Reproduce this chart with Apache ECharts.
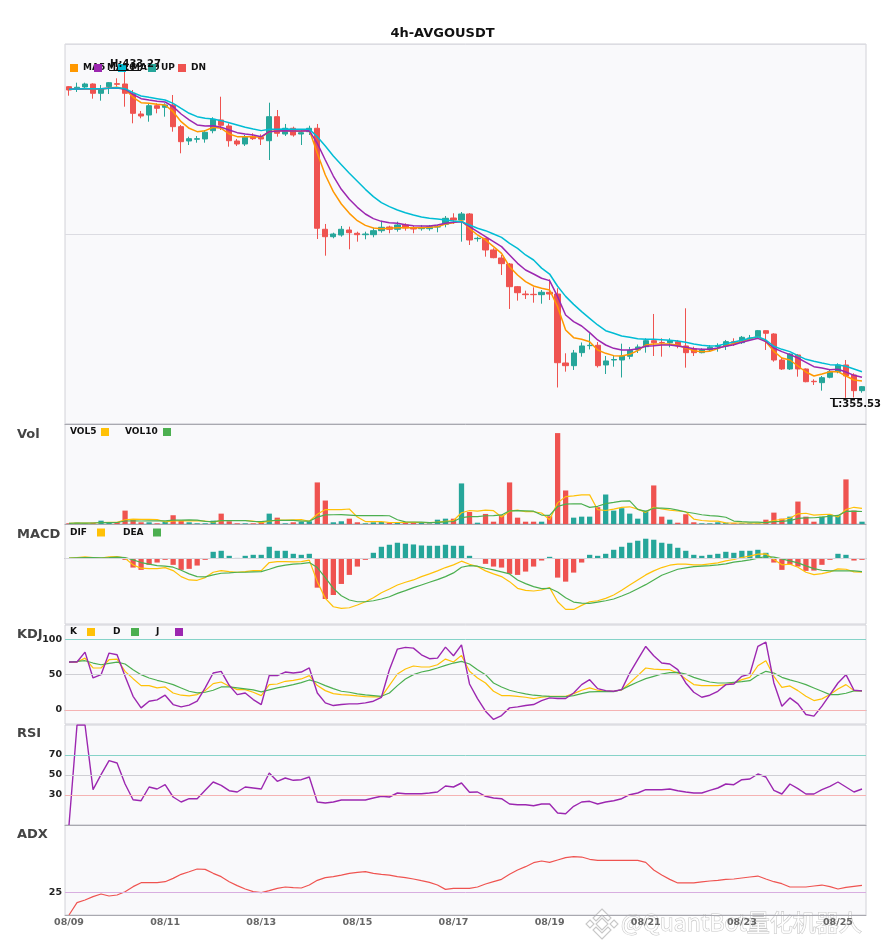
<!DOCTYPE html>
<html lang="zh">
<head>
<meta charset="UTF-8">
<title>4h-AVGOUSDT</title>
<script src="https://cdn.jsdelivr.net/npm/echarts@6.0.0/dist/echarts.min.js"></script>
<style>
    html, body { margin: 0; padding: 0; background: #ffffff; }
    #main { width: 885px; height: 950px; }
</style>
</head>
<body>
<div id="main"></div>
<script>
// ---- 时间轴 (4h) ----
const dates = [
  '08/09 00:00','08/09 04:00','08/09 08:00','08/09 12:00','08/09 16:00','08/09 20:00',
  '08/10 00:00','08/10 04:00','08/10 08:00','08/10 12:00','08/10 16:00','08/10 20:00',
  '08/11 00:00','08/11 04:00','08/11 08:00','08/11 12:00','08/11 16:00','08/11 20:00',
  '08/12 00:00','08/12 04:00','08/12 08:00','08/12 12:00','08/12 16:00','08/12 20:00',
  '08/13 00:00','08/13 04:00','08/13 08:00','08/13 12:00','08/13 16:00','08/13 20:00',
  '08/14 00:00','08/14 04:00','08/14 08:00','08/14 12:00','08/14 16:00','08/14 20:00',
  '08/15 00:00','08/15 04:00','08/15 08:00','08/15 12:00','08/15 16:00','08/15 20:00',
  '08/16 00:00','08/16 04:00','08/16 08:00','08/16 12:00','08/16 16:00','08/16 20:00',
  '08/17 00:00','08/17 04:00','08/17 08:00','08/17 12:00','08/17 16:00','08/17 20:00',
  '08/18 00:00','08/18 04:00','08/18 08:00','08/18 12:00','08/18 16:00','08/18 20:00',
  '08/19 00:00','08/19 04:00','08/19 08:00','08/19 12:00','08/19 16:00','08/19 20:00',
  '08/20 00:00','08/20 04:00','08/20 08:00','08/20 12:00','08/20 16:00','08/20 20:00',
  '08/21 00:00','08/21 04:00','08/21 08:00','08/21 12:00','08/21 16:00','08/21 20:00',
  '08/22 00:00','08/22 04:00','08/22 08:00','08/22 12:00','08/22 16:00','08/22 20:00',
  '08/23 00:00','08/23 04:00','08/23 08:00','08/23 12:00','08/23 16:00','08/23 20:00',
  '08/24 00:00','08/24 04:00','08/24 08:00','08/24 12:00','08/24 16:00','08/24 20:00',
  '08/25 00:00','08/25 04:00','08/25 08:00','08/25 12:00'
];

// ---- K线 ----
const opens = [
  429.36,428.74,429.29,430.00,427.79,429.36,430.07,430.00,427.79,422.88,
  422.64,424.85,424.47,425.01,419.87,416.47,416.88,416.95,418.92,421.46,
  420.03,416.47,415.76,417.49,417.35,416.54,422.24,418.13,419.49,418.13,
  418.68,419.49,395.52,393.76,394.17,395.35,394.57,394.24,394.24,395.19,
  396.06,395.52,396.54,395.83,395.66,395.66,396.06,396.70,398.20,397.72,
  399.15,393.29,393.38,390.61,388.71,387.28,381.90,380.16,380.09,380.00,
  380.57,380.16,363.79,363.15,366.24,367.90,367.99,363.32,364.50,364.50,
  365.38,366.88,367.66,369.08,368.66,368.61,368.85,367.83,367.18,366.24,
  366.88,367.71,367.83,368.85,368.61,369.60,370.03,371.46,370.67,364.50,
  362.37,365.69,362.37,359.45,359.12,360.40,361.73,363.32,360.94,357.22
];
const closes = [
  428.57,429.22,430.00,427.79,428.81,430.31,429.93,427.79,423.04,422.40,
  424.85,424.23,425.01,419.87,416.31,417.02,417.02,418.54,421.62,420.20,
  416.54,415.76,417.35,417.02,416.95,422.24,418.30,419.49,417.90,418.44,
  419.49,395.76,393.76,394.40,395.52,394.71,394.24,394.40,395.19,395.99,
  395.52,396.54,395.83,395.59,395.83,396.14,396.14,398.13,397.72,399.15,
  392.98,393.38,390.61,388.78,387.36,381.90,380.47,380.00,380.00,380.57,
  380.16,363.86,363.15,366.16,367.83,367.99,363.15,364.27,364.62,365.45,
  366.80,367.59,369.08,368.61,368.61,369.08,367.83,366.24,366.24,366.88,
  367.52,367.95,368.85,368.47,369.89,369.72,371.46,370.84,364.50,362.37,
  365.93,362.37,359.35,359.35,360.30,361.73,363.32,360.71,357.22,358.17
];
const lows = [
  427.22,428.10,428.81,426.51,426.04,427.62,429.36,424.61,420.67,421.86,
  421.05,423.04,422.24,418.68,413.55,415.52,416.07,416.07,418.30,419.08,
  415.12,415.29,415.29,416.71,415.52,411.96,417.49,417.66,417.49,415.52,
  417.90,393.22,389.25,393.38,393.76,390.77,392.58,393.15,393.62,394.71,
  394.57,394.95,395.19,394.57,395.19,395.19,394.81,395.99,396.78,392.58,
  391.79,392.58,389.02,388.64,384.67,376.61,378.58,378.98,378.10,377.86,
  378.74,357.98,361.73,362.13,365.29,367.00,362.72,361.18,362.91,360.35,
  364.69,366.16,366.24,365.45,365.29,367.52,367.28,362.68,365.45,366.09,
  366.47,366.47,366.88,367.83,368.30,369.08,369.65,366.88,364.10,362.13,
  362.13,360.54,359.21,358.57,357.22,360.16,361.35,355.53,355.60,356.74
];
const highs = [
  429.52,430.31,430.31,430.16,429.76,430.47,431.35,433.27,428.57,423.59,
  425.25,425.42,425.42,427.39,420.27,417.49,417.66,419.08,422.10,426.98,
  420.67,416.95,417.90,418.30,418.06,425.56,423.83,420.51,419.87,419.08,
  420.10,420.51,396.78,394.71,396.30,396.14,394.95,394.95,395.90,397.56,
  396.37,397.32,396.94,396.30,396.54,396.54,396.54,398.67,399.32,399.62,
  399.38,393.76,393.45,391.01,389.42,387.52,382.06,380.95,381.75,381.11,
  383.65,381.52,366.09,366.88,368.66,370.84,368.77,365.45,365.57,368.37,
  367.59,368.18,369.65,375.42,369.65,369.65,369.25,376.77,367.66,367.28,
  368.06,368.47,369.25,369.65,370.20,370.44,371.62,371.50,370.84,365.14,
  366.09,365.93,362.49,359.92,360.71,362.30,363.72,364.50,361.35,358.33
];

// ---- 均线 ----
const ma5 = [
  428.73,428.81,428.89,428.81,428.81,429.05,429.21,428.73,426.83,425.57,
  425.41,425.17,425.02,423.43,421.06,419.48,418.69,418.93,419.72,419.48,
  418.13,417.50,417.50,417.50,417.34,418.69,418.93,418.93,418.85,418.77,
  419.08,413.54,408.40,404.45,401.52,399.30,397.56,396.45,395.82,395.66,
  395.74,395.90,395.90,395.90,395.90,395.98,396.14,396.77,397.09,397.57,
  395.75,394.17,392.98,391.40,389.81,386.65,384.67,383.09,382.06,381.51,
  381.11,377.16,371.62,369.80,369.41,368.85,366.88,366.08,365.53,365.45,
  365.85,366.72,368.06,368.30,368.30,368.30,367.98,367.35,366.72,366.48,
  366.56,367.19,367.90,368.38,368.93,369.49,370.04,368.85,366.56,364.98,
  364.50,363.08,361.65,360.71,361.18,361.73,361.73,360.71,359.76,359.52
];
const ma10 = [
  428.73,428.81,428.89,428.89,428.89,428.97,429.05,428.73,427.55,426.52,
  426.20,425.89,425.73,424.62,422.88,421.46,420.27,420.03,420.11,419.72,
  419.08,418.45,418.13,417.90,417.50,418.69,418.85,418.93,418.85,418.85,
  418.93,415.91,411.96,408.16,405.00,402.63,400.73,399.15,398.04,397.40,
  397.09,396.93,396.61,396.38,396.30,396.30,396.53,396.93,397.17,397.33,
  396.14,394.96,393.77,392.58,391.40,389.42,387.44,385.86,384.91,383.90,
  383.33,379.53,375.18,373.60,372.57,370.99,369.25,368.06,367.27,366.88,
  366.88,367.19,367.75,367.90,368.06,368.06,367.83,367.51,367.19,367.03,
  367.03,367.35,367.75,368.14,368.69,369.17,369.64,368.85,367.35,366.48,
  365.77,364.98,363.95,362.92,362.60,362.21,362.29,361.65,360.86,360.39
];
const ma20 = [
  428.73,428.81,428.89,428.89,428.89,428.97,429.13,428.89,427.94,427.15,
  426.83,426.52,426.20,425.41,424.22,423.04,422.25,421.85,421.69,421.30,
  420.82,420.27,419.72,419.32,418.93,419.24,419.24,419.32,419.24,419.24,
  419.24,417.50,415.28,412.91,410.85,408.80,406.90,405.00,403.26,401.83,
  400.89,400.10,399.46,398.91,398.43,398.12,397.96,397.75,397.49,397.33,
  396.54,395.75,395.19,394.40,393.61,392.19,391.00,389.42,388.23,386.30,
  384.90,382.00,379.60,377.70,375.97,374.39,372.81,371.46,370.83,370.20,
  369.88,369.56,369.41,369.41,369.33,369.17,369.01,368.69,368.30,367.98,
  367.83,367.90,368.38,368.77,369.17,369.64,370.04,369.25,367.75,367.03,
  366.48,365.53,364.66,364.19,363.79,363.40,363.32,363.00,362.37,361.73
];

// ---- 成交量 ----
const volumes = [
  7,13,7,13,33,13,20,133,47,17,
  17,7,20,87,30,17,7,7,33,103,
  27,7,7,7,17,103,63,7,17,23,
  27,413,233,17,27,53,17,7,17,20,
  13,17,17,13,17,7,43,53,53,403,
  120,13,100,23,87,413,63,23,23,23,
  77,903,333,63,73,73,167,293,133,157,
  103,53,133,383,73,43,13,97,17,7,
  7,17,13,7,7,7,7,43,113,53,
  73,223,73,23,73,93,87,443,133,23
];
const vol5 = [
  7,10,9,10,15,16,17,42,49,46,
  47,44,22,30,32,32,32,30,19,33,
  35,35,35,30,13,28,39,39,41,43,
  27,97,143,143,143,149,69,24,24,23,
  15,15,17,16,15,14,19,27,35,112,
  134,128,138,132,69,127,137,122,122,109,
  42,210,272,280,290,289,142,134,148,165,
  171,148,116,166,149,137,129,122,49,35,
  28,29,12,10,10,10,8,14,35,45,
  58,101,107,89,93,97,70,144,166,156
];
const vol10 = [
  7,10,9,10,15,14,15,30,32,30,
  31,31,32,39,39,40,38,26,24,33,
  34,34,33,25,23,32,37,37,36,28,
  28,68,91,92,93,88,83,83,83,83,
  82,42,21,20,19,15,17,22,25,64,
  74,74,82,83,90,131,133,130,127,89,
  85,174,197,201,199,165,176,203,214,227,
  230,145,125,157,157,154,138,119,107,92,
  83,79,67,29,23,19,19,13,23,27,
  34,55,61,62,69,77,85,125,127,124
];

// ---- MACD ----
const dif = [
  0,0.13,0.27,0.13,0,0.27,0.33,0,-1.33,-2.0,
  -2.07,-2.07,-1.87,-2.47,-3.67,-4.33,-4.4,-3.87,-2.8,-2.47,
  -2.67,-2.8,-2.67,-2.47,-2.47,-0.87,-0.67,-0.67,-0.73,-0.67,
  -0.4,-4.67,-8.0,-9.67,-10.0,-9.87,-9.33,-8.67,-7.87,-6.87,
  -6.13,-5.33,-4.8,-4.33,-3.67,-3.13,-2.53,-1.87,-1.33,-0.6,
  -1.2,-1.67,-2.53,-3.13,-3.67,-4.67,-6.0,-6.4,-6.53,-6.33,
  -5.87,-8.67,-10.2,-10.2,-9.4,-8.67,-8.47,-8.0,-7.33,-6.4,
  -5.33,-4.33,-3.33,-2.53,-1.87,-1.4,-1.2,-1.2,-1.33,-1.33,
  -1.13,-0.93,-0.53,-0.27,0.13,0.4,0.8,0.87,-0.27,-1.33,
  -1.2,-1.8,-2.8,-3.27,-3.07,-2.73,-2.13,-2.2,-2.73,-2.8
];
const dea = [
  0,0.07,0.13,0.13,0.07,0.13,0.2,0.13,-0.33,-0.87,
  -1.2,-1.47,-1.6,-1.8,-2.4,-3.13,-3.67,-3.73,-3.33,-3.0,
  -2.93,-2.8,-2.8,-2.73,-2.67,-2.2,-1.67,-1.4,-1.2,-1.07,
  -0.87,-1.87,-3.87,-6.0,-7.47,-8.33,-8.67,-8.67,-8.47,-8.13,
  -7.67,-7.0,-6.47,-5.87,-5.33,-4.8,-4.27,-3.67,-2.93,-1.8,
  -1.47,-1.6,-2.0,-2.33,-2.73,-3.13,-4.33,-5.07,-5.67,-6.07,
  -6.0,-6.73,-7.87,-8.73,-8.93,-9.0,-8.73,-8.47,-8.13,-7.53,
  -6.87,-6.07,-5.27,-4.33,-3.4,-2.8,-2.2,-1.93,-1.67,-1.57,
  -1.47,-1.33,-1.13,-0.8,-0.6,-0.33,0,0.33,0.2,-0.13,
  -0.53,-0.93,-1.53,-2.07,-2.4,-2.53,-2.53,-2.53,-2.53,-2.67
];
const macdHist = [
  0,0.1,0.2,0.05,-0.1,0.15,0.2,-0.33,-1.87,-2.33,
  -1.33,-0.87,-0.33,-1.33,-2.33,-2.13,-1.47,-0.33,1.27,1.47,
  0.47,0.05,0.47,0.67,0.67,2.27,1.47,1.47,0.87,0.67,
  0.87,-5.87,-8.13,-7.33,-5.13,-3.33,-1.67,-0.33,1.07,2.27,
  2.67,3.07,2.87,2.73,2.53,2.47,2.47,2.67,2.47,2.47,
  0.47,-0.13,-1.13,-1.67,-1.87,-3.13,-3.33,-2.67,-1.67,-0.47,
  0.27,-3.87,-4.67,-2.87,-0.87,0.67,0.47,0.87,1.67,2.27,
  3.07,3.47,3.87,3.67,3.07,2.87,2.07,1.47,0.67,0.47,
  0.67,0.87,1.27,1.07,1.47,1.47,1.67,1.07,-0.87,-2.33,
  -1.33,-1.67,-2.53,-2.47,-1.33,-0.33,0.87,0.67,-0.47,-0.33
];

// ---- KDJ ----
const kLine = [
  67.6,67.6,73.2,59.2,59.2,70.9,71.8,54.5,44.1,34.3,
  34.3,31.0,32.4,23.9,20.7,19.7,21.6,27.2,37.1,39.4,
  33.3,28.6,28.6,24.9,20.2,35.7,36.6,40.4,41.8,43.7,
  48.4,34.3,27.2,23.0,21.6,20.7,19.7,18.8,18.3,18.3,
  34.7,50.7,57.7,62.0,60.6,60.6,63.8,71.8,67.6,77.0,
  54.5,45.1,38.0,26.3,20.2,20.2,19.2,17.8,16.0,17.8,
  19.2,19.2,19.2,23.0,27.7,31.0,27.7,26.3,26.3,28.2,
  38.0,48.4,59.2,57.7,56.8,56.8,52.1,43.7,35.7,34.3,
  34.3,34.3,35.7,38.0,42.7,46.0,62.4,69.5,47.4,31.9,
  33.8,27.2,19.2,13.1,15.5,21.6,29.6,35.7,27.2,26.8
];
const dLine = [
  67.6,68.5,69.5,66.2,63.8,65.7,67.6,64.8,56.8,49.8,
  45.1,41.8,39.0,35.7,31.0,26.3,23.9,24.9,27.7,32.4,
  32.4,31.0,29.6,28.2,25.4,28.2,31.0,33.3,35.7,38.5,
  42.3,39.0,34.3,30.0,26.3,24.9,22.5,21.1,20.2,19.2,
  23.9,34.3,43.7,49.8,53.5,55.9,59.2,62.9,66.2,68.5,
  64.8,56.8,49.8,38.0,32.4,27.7,24.9,22.5,20.7,19.7,
  19.2,18.8,18.8,20.2,23.0,25.4,25.8,25.8,25.8,28.6,
  34.3,39.4,44.1,47.4,50.7,52.6,53.1,50.7,46.0,42.3,
  39.4,38.0,38.0,39.0,39.9,41.3,48.8,54.5,52.1,46.0,
  42.3,39.4,35.7,31.0,26.3,21.6,21.6,23.5,26.8,26.8
];
const jLine = [
  67.6,67.6,81.7,45.1,49.8,80.3,77.9,47.4,19.2,2.8,
  12.2,14.1,20.7,7.5,4.2,6.6,12.2,31.0,52.1,54.5,
  34.7,21.6,23.9,14.6,7.5,48.8,48.4,53.5,52.1,53.5,
  59.2,23.9,9.9,6.1,7.5,8.5,8.5,9.9,12.2,17.8,
  56.8,85.9,88.3,87.3,77.9,72.3,73.2,88.7,76.5,92.0,
  36.6,16.0,-1.9,-13.6,-8.0,2.8,4.2,6.1,7.5,13.1,
  16.9,16.0,16.0,23.9,35.7,42.7,30.0,27.2,26.3,28.6,
  52.1,70.9,89.7,76.5,66.2,64.8,56.8,38.0,24.9,17.8,
  20.7,26.3,35.7,36.6,47.4,50.7,89.7,95.8,38.0,5.2,
  16.9,8.5,-6.6,-8.9,5.2,21.6,38.0,49.8,27.7,26.8
];

// ---- RSI / ADX ----
const rsi = [
  0,100,100,35.3,50.3,64.3,62.0,41.0,25.3,24.3,
  38.0,36.0,40.3,28.0,23.0,26.3,26.3,34.7,43.0,39.7,
  34.3,33.0,38.0,37.0,36.0,52.0,43.7,47.0,44.7,45.3,
  48.0,23.0,22.0,23.0,25.0,25.0,25.0,25.0,27.0,28.7,
  28.0,32.0,31.3,31.3,31.3,32.0,33.0,39.0,38.0,42.0,
  32.7,33.0,28.7,27.0,26.3,21.0,20.3,20.3,19.3,21.0,
  21.0,12.0,11.3,18.7,23.0,23.7,21.0,23.0,24.3,26.3,
  30.3,32.0,35.3,35.3,35.3,36.0,34.3,33.0,32.0,32.0,
  34.7,37.0,41.0,40.3,45.3,46.0,51.0,48.0,34.7,31.0,
  41.0,36.3,31.0,31.0,35.3,38.7,43.0,38.0,33.0,36.0
];
const adx = [
  0,13.7,16.7,20.4,23.3,21.1,22.2,25.9,31.5,35.9,
  35.9,35.9,37.0,40.7,45.2,48.1,51.1,50.7,46.3,42.6,
  37.0,32.6,28.9,25.9,24.8,27.0,29.6,31.1,30.4,30.0,
  33.3,38.5,41.5,42.6,44.4,46.3,47.4,48.1,46.3,45.2,
  44.4,42.6,41.5,40.0,38.1,36.3,33.3,28.5,29.6,29.6,
  29.6,31.1,34.4,37.0,39.6,45.2,50.0,53.7,58.1,60.0,
  58.5,61.1,63.7,64.8,64.4,61.9,60.7,60.7,60.7,60.7,
  60.7,60.7,58.5,50.0,44.4,39.6,35.6,35.6,35.6,36.7,
  37.8,38.5,39.6,40.0,41.1,42.2,43.3,40.0,37.0,34.8,
  31.1,31.1,31.1,32.2,33.3,31.5,28.9,30.7,31.9,33.0
];

// ---- 样式 ----
const FONT = 'DejaVu Sans';
const UP = '#26a69a', DN = '#ef5350';
const C_MA5 = '#ff9800', C_MA10 = '#9c27b0', C_MA20 = '#00bcd4';
const C_Y = '#ffc107', C_G = '#4caf50', C_P = '#9c27b0';

const hiVal = Math.max.apply(null, highs), hiIdx = highs.indexOf(hiVal);
const loVal = Math.min.apply(null, lows), loIdx = lows.indexOf(loVal);
const pad = (hiVal - loVal) * 0.08;
const pMin = loVal - pad, pMax = hiVal + pad;
const vMax = Math.max.apply(null, volumes) * 1.1;

const kData = opens.map((o, i) => [o, closes[i], lows[i], highs[i]]);
const volData = volumes.map((v, i) => ({value: v, itemStyle: {color: closes[i] >= opens[i] ? UP : DN}}));
const histData = macdHist.map(v => ({value: v, itemStyle: {color: v >= 0 ? UP : DN}}));

// 六个面板
const panels = [
    {top: 44, height: 380},
    {top: 424, height: 100},
    {top: 524, height: 100},
    {top: 625, height: 99},
    {top: 725, height: 100},
    {top: 825, height: 90}
];
const grids = panels.map(p => ({
    left: 65, right: 19, top: p.top, height: p.height,
    show: true, backgroundColor: '#f9f9fb', borderColor: '#d2d2d8', borderWidth: 1
}));
const xAxes = panels.map((p, k) => ({
    type: 'category', gridIndex: k, data: dates, boundaryGap: true,
    axisLine: {show: true, lineStyle: {color: '#a9a9b0'}},
    axisTick: {show: false},
    splitLine: {show: false},
    axisLabel: k === 5 ? {
        show: true, interval: 11, margin: 3,
        fontFamily: FONT, fontSize: 9.5, fontWeight: 'bold', color: '#666',
        formatter: v => v.slice(0, 5)
    } : {show: false}
}));

function hidden(k, min, max) {
    return {type: 'value', gridIndex: k, min: min, max: max,
        axisLine: {show: false}, axisTick: {show: false},
        axisLabel: {show: false}, splitLine: {show: false}};
}
function levels(k, min, max, vals) {
    const a = hidden(k, min, max);
    a.axisLabel = {show: true, customValues: vals, margin: 3,
        fontFamily: FONT, fontSize: 9.5, fontWeight: 'bold', color: '#222'};
    return a;
}
const yAxes = [
    Object.assign(hidden(0, pMin, pMax), {interval: (pMax - pMin) / 2,
        splitLine: {show: true, lineStyle: {color: '#dcdce2'}}}),
    hidden(1, 0, vMax),
    hidden(2, -13.1, 6.8),
    levels(3, -20, 120, [0, 50, 100]),
    levels(4, 0, 100, [30, 50, 70]),
    levels(5, 0, 100, [25])
];

function hLines(list) {
    return {
        silent: true, symbol: ['none', 'none'], animation: false,
        label: {show: false},
        data: list.map(d => ({yAxis: d[0], lineStyle: {color: d[1], width: 1, type: 'solid'}}))
    };
}
function line(name, data, color, k, width, extra) {
    return Object.assign({
        name: name, type: 'line', data: data, xAxisIndex: k, yAxisIndex: k,
        symbol: 'none', smooth: false, color: color,
        lineStyle: {color: color, width: width}, z: 3
    }, extra || {});
}

function legendItem(name, left, top, textFirst, boxW) {
    const ts = {fontFamily: FONT, fontSize: 9, fontWeight: 'bold', color: '#111'};
    const o = {
        data: [name], left: left, top: top, padding: 0, itemGap: 0,
        itemWidth: 8, itemHeight: 8, icon: 'rect', selectedMode: false,
        align: textFirst ? 'right' : 'left', textStyle: ts
    };
    if (textFirst) {
        o.formatter = '{t|{name}}';
        ts.rich = {t: Object.assign({width: boxW, align: 'left'}, ts)};
    }
    return o;
}

function panelTitle(text, top) {
    return {text: text, left: 17, top: top, padding: 0,
        textStyle: {fontFamily: FONT, fontSize: 13, fontWeight: 'bold', color: '#444'}};
}

const labelStyle = {fontFamily: FONT, fontSize: 10, fontWeight: 'bold', color: '#111'};
const wmStyle = {fill: 'rgba(255,255,255,0.9)', stroke: 'rgba(185,185,185,0.8)', lineWidth: 1.1};

const option = {
    backgroundColor: '#ffffff',
    animation: false,
    title: [
        {text: '4h-AVGOUSDT', left: 'center', top: 27, padding: 0,
            textStyle: {fontFamily: FONT, fontSize: 13, fontWeight: 'bold', color: '#111'}},
        panelTitle('Vol', 428),
        panelTitle('MACD', 528),
        panelTitle('KDJ', 628),
        panelTitle('RSI', 727),
        panelTitle('ADX', 828)
    ],
    legend: [
        legendItem('MA5', 70, 63.5, false),
        legendItem('MA10', 94, 63.5, false),
        legendItem('MA20', 118, 63.5, false),
        legendItem('UP', 148, 63.5, false),
        legendItem('DN', 178, 63.5, false),
        legendItem('VOL5', 70, 427.5, true, 26),
        legendItem('VOL10', 125, 427.5, true, 33),
        legendItem('DIF', 70, 528, true, 22),
        legendItem('DEA', 123, 528, true, 25),
        legendItem('K', 70, 627.5, true, 12),
        legendItem('D', 113, 627.5, true, 13),
        legendItem('J', 156, 627.5, true, 14)
    ],
    grid: grids,
    xAxis: xAxes,
    yAxis: yAxes,
    series: [
        {
            name: 'AVGOUSDT', type: 'candlestick', data: kData,
            xAxisIndex: 0, yAxisIndex: 0, barWidth: '72%',
            itemStyle: {color: UP, color0: DN, borderColor: UP, borderColor0: DN, borderWidth: 1},
            markLine: {
                silent: true, symbol: ['none', 'none'], animation: false,
                lineStyle: {color: '#111', width: 1, type: 'solid'},
                data: [
                    [{coord: [hiIdx - 2, hiVal], label: Object.assign({show: true, position: 'insideStartTop',
                        distance: 1, formatter: 'H:' + hiVal.toFixed(2)}, labelStyle)},
                     {coord: [hiIdx + 2, hiVal]}],
                    [{coord: [loIdx - 2, loVal], label: Object.assign({show: true, position: 'insideStartBottom',
                        distance: 2, formatter: 'L:' + loVal.toFixed(2)}, labelStyle)},
                     {coord: [loIdx + 2, loVal]}]
                ]
            }
        },
        line('MA5', ma5, C_MA5, 0, 1.5),
        line('MA10', ma10, C_MA10, 0, 1.5),
        line('MA20', ma20, C_MA20, 0, 1.5),
        {name: 'UP', type: 'bar', data: [], xAxisIndex: 0, yAxisIndex: 0, color: UP},
        {name: 'DN', type: 'bar', data: [], xAxisIndex: 0, yAxisIndex: 0, color: DN},

        {name: 'Vol', type: 'bar', data: volData, xAxisIndex: 1, yAxisIndex: 1, barWidth: '66%'},
        line('VOL5', vol5, C_Y, 1, 1.2),
        line('VOL10', vol10, C_G, 1, 1.2),

        {name: 'MACD', type: 'bar', data: histData, xAxisIndex: 2, yAxisIndex: 2, barWidth: '66%',
            markLine: hLines([[0, '#d6d6dc']])},
        line('DIF', dif, C_Y, 2, 1.2),
        line('DEA', dea, C_G, 2, 1.2),

        line('K', kLine, C_Y, 3, 1.2, {markLine: hLines([[100, '#86d3c8'], [50, '#cfcfd4'], [0, '#f5b3b3']])}),
        line('D', dLine, C_G, 3, 1.2),
        line('J', jLine, C_P, 3, 1.4),

        line('RSI', rsi, C_P, 4, 1.4, {markLine: hLines([[70, '#86d3c8'], [50, '#cfcfd4'], [30, '#f5b3b3']])}),

        line('ADX', adx, DN, 5, 1.2, {markLine: hLines([[25, '#d8aee0']])})
    ],
    graphic: [
        {type: 'group', z: 100, silent: true, children: [
            {type: 'polygon', shape: {points: [[602, 909], [611, 918], [608, 921], [602, 915], [596, 921], [593, 918]]}, style: wmStyle},
            {type: 'polygon', shape: {points: [[602, 939], [611, 930], [608, 927], [602, 933], [596, 927], [593, 930]]}, style: wmStyle},
            {type: 'polygon', shape: {points: [[602, 918], [608, 924], [602, 930], [596, 924]]}, style: wmStyle},
            {type: 'polygon', shape: {points: [[590, 920], [594, 924], [590, 928], [586, 924]]}, style: wmStyle},
            {type: 'polygon', shape: {points: [[614, 920], [618, 924], [614, 928], [610, 924]]}, style: wmStyle},
            {type: 'text', x: 621, y: 911, style: Object.assign({
                text: '@QuantBot量化机器人', font: '23px "Noto Sans CJK SC"'}, wmStyle)}
        ]}
    ]
};

const chart = echarts.init(document.getElementById('main'), null, {renderer: 'canvas'});
chart.setOption(option);
</script>
</body>
</html>
